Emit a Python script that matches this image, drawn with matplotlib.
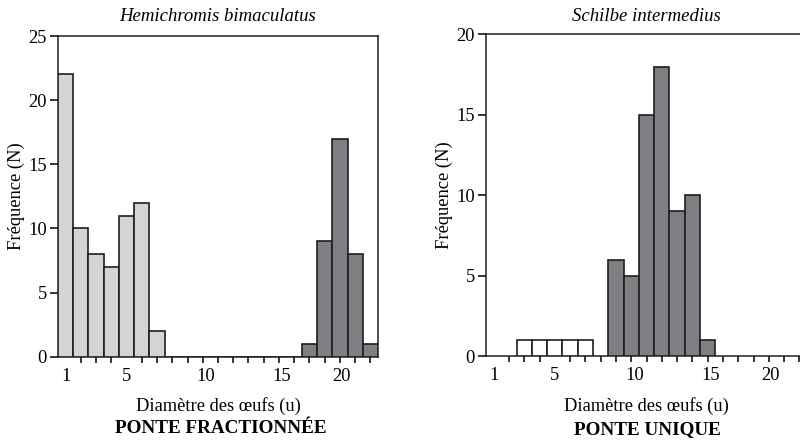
import numpy as np
import matplotlib
matplotlib.use('agg')
from matplotlib import pyplot as plt

# Hemichromis bimaculatus (ponte fractionnee)
hemi_light_pos = [1, 2, 3, 4, 5, 6, 7]
hemi_light_val = [22, 10, 8, 7, 11, 12, 2]
hemi_empty_pos = [8, 9, 10, 11, 12, 13, 14, 15, 16]
hemi_empty_val = [0, 0, 0, 0, 0, 0, 0, 0, 0]
hemi_dark_pos = [17, 18, 19, 20, 21]
hemi_dark_val = [1, 9, 17, 8, 1]

# Schilbe intermedius (ponte unique)
schil_white_pos = [3, 4, 5, 6, 7]
schil_white_val = [1, 1, 1, 1, 1]
schil_dark_pos = [9, 10, 11, 12, 13, 14, 15]
schil_dark_val = [6, 5, 15, 18, 9, 10, 1]

x_tick_marks = list(range(1, 22))
x_label_pos = [1, 5, 10.2, 15.2, 19.1]
x_label_txt = ['1', '5', '10', '15', '20']

LIGHT = '#d3d4d6'
DARK = '#7e7f83'
EDGE = '#1e1e1e'

plt.rcParams['font.family'] = ['Liberation Serif', 'DejaVu Serif']
plt.rcParams['font.size'] = 13.3

fig = plt.figure(figsize=(8, 4.44), dpi=100)
ax1 = fig.add_axes([0.0725, 0.1966, 0.40, 0.7223])
ax2 = fig.add_axes([0.6075, 0.198, 0.40125, 0.7245])


def style_axis(ax, ymax):
    ax.set_xlim(0.5, 21.5)
    ax.set_ylim(0, ymax)
    ax.set_yticks(range(0, ymax + 1, 5))
    ax.set_xticks(x_label_pos)
    ax.set_xticklabels(x_label_txt)
    ax.set_xticks(x_tick_marks, minor=True)
    ax.tick_params(axis='x', which='major', length=0, pad=8)
    ax.tick_params(axis='x', which='minor', length=4.5, width=1.1, direction='out')
    ax.tick_params(axis='y', length=6, width=1.1, direction='out', pad=2)
    for sp in ax.spines.values():
        sp.set_linewidth(1.1)
        sp.set_color(EDGE)
    ax.set_ylabel('Fréquence (N)', labelpad=2)


kw = dict(width=1.0, edgecolor=EDGE, linewidth=1.2, zorder=3)

ax1.bar(hemi_light_pos, hemi_light_val, color=LIGHT, **kw)
ax1.bar(hemi_empty_pos, hemi_empty_val, color='white', **kw)
ax1.bar(hemi_dark_pos, hemi_dark_val, color=DARK, **kw)
style_axis(ax1, 25)
ax1.set_title('Hemichromis bimaculatus', style='italic', fontsize=13.5, pad=11)
ax1.set_xlabel('Diamètre des œufs (u)', labelpad=9)
fig.text(0.276, 0.035, 'PONTE FRACTIONNÉE', ha='center', va='center',
         fontweight='bold', fontsize=13.8)

ax2.bar(schil_white_pos, schil_white_val, color='white', **kw)
ax2.bar(schil_dark_pos, schil_dark_val, color=DARK, **kw)
style_axis(ax2, 20)
ax2.spines['right'].set_visible(False)
ax2.set_title('Schilbe intermedius', style='italic', fontsize=13.5, pad=10)
ax2.set_xlabel('Diamètre des œufs (u)', labelpad=9)
fig.text(0.809, 0.032, 'PONTE UNIQUE', ha='center', va='center',
         fontweight='bold', fontsize=13.8)

fig.savefig('out.png', dpi=100)
